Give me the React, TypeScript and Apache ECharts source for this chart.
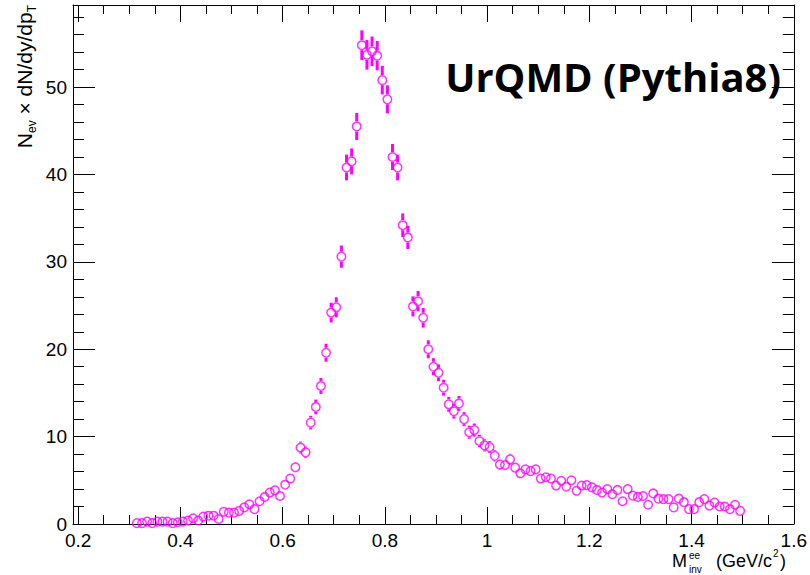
import React, { useEffect, useRef } from 'react';
import * as echarts from 'echarts';

// Histogram binning (bin low edge of first bin, bin width) in GeV/c^2
const binLow = 0.31;
const binWidth = 0.01;

// Yields per bin
const yields = [
  0.1, 0.1, 0.27, 0.1, 0.27, 0.27, 0.27, 0.1, 0.2,
  0.27, 0.4, 0.65, 0.4, 0.85, 0.95, 0.95, 0.57, 1.4, 1.3,
  1.3, 1.5, 1.9, 2.25, 1.7, 2.6, 3.1, 3.6, 3.85, 3.2,
  4.5, 5.2, 6.5, 8.75, 8.2, 11.6, 13.4, 15.8, 19.6, 24.2,
  24.8, 30.6, 40.8, 41.5, 45.5, 54.8, 53.7, 54.1, 53.6, 50.8,
  48.6, 42.0, 40.8, 34.2, 32.8, 24.9, 25.5, 23.6, 20.0, 18.0,
  17.3, 15.6, 13.7, 12.9, 13.8, 12.0, 10.5, 10.75, 9.5, 9.0,
  8.8, 7.8, 6.8, 6.75, 7.4, 6.45, 5.8, 6.25, 6.05, 6.25,
  5.2, 5.35, 5.2, 4.4, 4.95, 4.27, 5.0, 3.8, 4.4, 4.45,
  4.2, 3.9, 3.6, 4.0, 3.4, 3.9, 2.6, 4.0, 3.25, 3.1,
  3.2, 2.2, 3.5, 2.9, 2.85, 2.85, 1.9, 2.9, 2.5, 1.7,
  1.7, 2.5, 2.85, 2.1, 2.45, 2.0, 2.0, 1.7, 2.2, 1.5,
];

// Statistical errors per bin (half-length of the error bars)
const yieldErrors = [
  0.07, 0.07, 0.12, 0.07, 0.12, 0.12, 0.12, 0.07, 0.1,
  0.12, 0.15, 0.19, 0.15, 0.21, 0.22, 0.22, 0.17, 0.27, 0.26,
  0.26, 0.28, 0.32, 0.35, 0.3, 0.37, 0.4, 0.44, 0.45, 0.41,
  0.49, 0.52, 0.59, 0.68, 0.66, 0.78, 0.84, 0.91, 1.02, 1.13,
  1.15, 1.27, 1.47, 1.48, 1.55, 1.7, 1.69, 1.69, 1.68, 1.64,
  1.6, 1.49, 1.47, 1.35, 1.32, 1.15, 1.16, 1.12, 1.03, 0.98,
  0.96, 0.91, 0.85, 0.83, 0.85, 0.8, 0.75, 0.75, 0.71, 0.69,
  0.68, 0.64, 0.6, 0.6, 0.63, 0.58, 0.55, 0.57, 0.57, 0.57,
  0.52, 0.53, 0.52, 0.48, 0.51, 0.48, 0.51, 0.45, 0.48, 0.49,
  0.47, 0.45, 0.44, 0.46, 0.42, 0.45, 0.37, 0.46, 0.41, 0.4,
  0.41, 0.34, 0.43, 0.39, 0.39, 0.39, 0.32, 0.39, 0.36, 0.3,
  0.3, 0.36, 0.39, 0.33, 0.36, 0.33, 0.33, 0.3, 0.34, 0.28,
];

const xMajorTicks = [0.2, 0.4, 0.6, 0.8, 1.0, 1.2, 1.4, 1.6];
const xMinorTicks = [0.25, 0.3, 0.35, 0.45, 0.5, 0.55, 0.65, 0.7, 0.75, 0.85, 0.9, 0.95, 1.05, 1.1, 1.15, 1.25, 1.3, 1.35, 1.45, 1.5, 1.55];
const yMajorTicks = [0, 10, 20, 30, 40, 50];
const yMinorTicks = [2, 4, 6, 8, 12, 14, 16, 18, 22, 24, 26, 28, 32, 34, 36, 38, 42, 44, 46, 48, 52, 54, 56, 58];

const titleText = 'UrQMD (Pythia8)';

export default function App() {
  const ref = useRef<HTMLDivElement>(null);

  useEffect(() => {
    if (!ref.current) return;
    const chart = echarts.init(ref.current, null, { renderer: 'svg' });
    const ff = "'Liberation Sans', Arial, Helvetica, sans-serif";
    const points = yields.map((y, i) => [binLow + binWidth * (i + 0.5), y, yieldErrors[i]]);
    const MAG = '#ff00ff';
    const R = 5;

    const xMin = 0.19, xMax = 1.6, yMin = 0, yMax = 59.4;
    const black = { color: '#000', width: 1 };

    const mkX = (pos: string, major: boolean, line: boolean, labels: boolean) => ({
      type: 'value', position: pos, min: xMin, max: xMax,
      splitLine: { show: false },
      axisLine: { show: line, onZero: false, lineStyle: black },
      axisTick: { show: true, inside: true, length: major ? 17 : 9, customValues: major ? xMajorTicks : xMinorTicks, lineStyle: black },
      axisLabel: labels
        ? { show: true, customValues: xMajorTicks, formatter: (v: number) => String(Math.round(v * 10) / 10), fontSize: 19, color: '#000', fontFamily: ff, margin: 7 }
        : { show: false },
    });
    const mkY = (pos: string, major: boolean, line: boolean, labels: boolean) => ({
      type: 'value', position: pos, min: yMin, max: yMax,
      splitLine: { show: false },
      axisLine: { show: line, onZero: false, lineStyle: black },
      axisTick: { show: true, inside: true, length: major ? 22 : 11, customValues: major ? yMajorTicks : yMinorTicks, lineStyle: black },
      axisLabel: labels
        ? { show: true, customValues: yMajorTicks, formatter: (v: number) => String(v), fontSize: 19, color: '#000', fontFamily: ff, margin: 6 }
        : { show: false },
    });

    const txt = (text: string, x: number, y: number, size: number) => ({
      type: 'text', x, y, z: 10,
      style: {
        text, fontSize: size, fontFamily: ff, fill: '#000',
        align: 'left', textAlign: 'left', verticalAlign: 'middle', textVerticalAlign: 'middle',
      },
    });

    const option: any = {
      animation: false,
      backgroundColor: '#fff',
      grid: { left: 73, right: 14, top: 5, bottom: 51, containLabel: false },
      xAxis: [
        mkX('bottom', true, true, true),
        mkX('bottom', false, false, false),
        mkX('top', true, true, false),
        mkX('top', false, false, false),
      ],
      yAxis: [
        mkY('left', true, true, true),
        mkY('left', false, false, false),
        mkY('right', true, true, false),
        mkY('right', false, false, false),
      ],
      series: [
        {
          type: 'custom',
          xAxisIndex: 0,
          yAxisIndex: 0,
          data: points,
          renderItem: (params: any, api: any) => {
            const x = api.value(0), y = api.value(1), e = api.value(2);
            const c = api.coord([x, y]);
            const top = api.coord([x, y + e]);
            const bot = api.coord([x, y - e]);
            const children: any[] = [];
            if (c[1] - top[1] > R) {
              children.push({ type: 'line', shape: { x1: c[0], y1: top[1], x2: c[0], y2: c[1] - R }, style: { stroke: MAG, lineWidth: 3 } });
            }
            if (bot[1] - c[1] > R) {
              children.push({ type: 'line', shape: { x1: c[0], y1: c[1] + R, x2: c[0], y2: bot[1] }, style: { stroke: MAG, lineWidth: 3 } });
            }
            return { type: 'group', children };
          },
          z: 2,
        },
        {
          type: 'scatter',
          xAxisIndex: 0,
          yAxisIndex: 0,
          data: points.map((p) => [p[0], p[1]]),
          symbol: 'circle',
          symbolSize: 8.5,
          itemStyle: { color: 'rgba(255,255,255,0)', borderColor: MAG, borderWidth: 1.5 },
          z: 3,
        },
      ],
      graphic: [
        {
          type: 'text', x: 781, y: 76, z: 10,
          style: {
            text: titleText, fontSize: 40, fontWeight: 'bold', fontFamily: "'Open Sans', 'Noto Sans', sans-serif",
            fill: '#000', align: 'right', textAlign: 'right', verticalAlign: 'middle', textVerticalAlign: 'middle',
          },
        },
        {
          type: 'text', x: 24, y: 5, rotation: Math.PI / 2, z: 10,
          style: {
            text: 'N{sub|ev} × dN/dy/dp{sub|T}', fontSize: 21, fontFamily: ff, fill: '#000',
            align: 'right', textAlign: 'right', verticalAlign: 'middle', textVerticalAlign: 'middle',
            lineHeight: 28,
            rich: {
              sub: { fontSize: 12, fontFamily: ff, fill: '#000', color: '#000', verticalAlign: 'bottom', lineHeight: 12 },
            },
          },
        },
        txt('M', 672, 561, 18),
        txt('ee', 689, 555, 10),
        txt('inv', 689, 569, 10),
        txt('(GeV/c', 716, 561, 18),
        txt('2', 773, 553, 10),
        txt(')', 780, 561, 18),
      ],
    };

    chart.setOption(option);
    return () => chart.dispose();
  }, []);

  return (
    <div
      ref={ref}
      style={{ position: 'fixed', left: 0, top: 0, width: 810, height: 575, background: '#fff' }}
    />
  );
}
